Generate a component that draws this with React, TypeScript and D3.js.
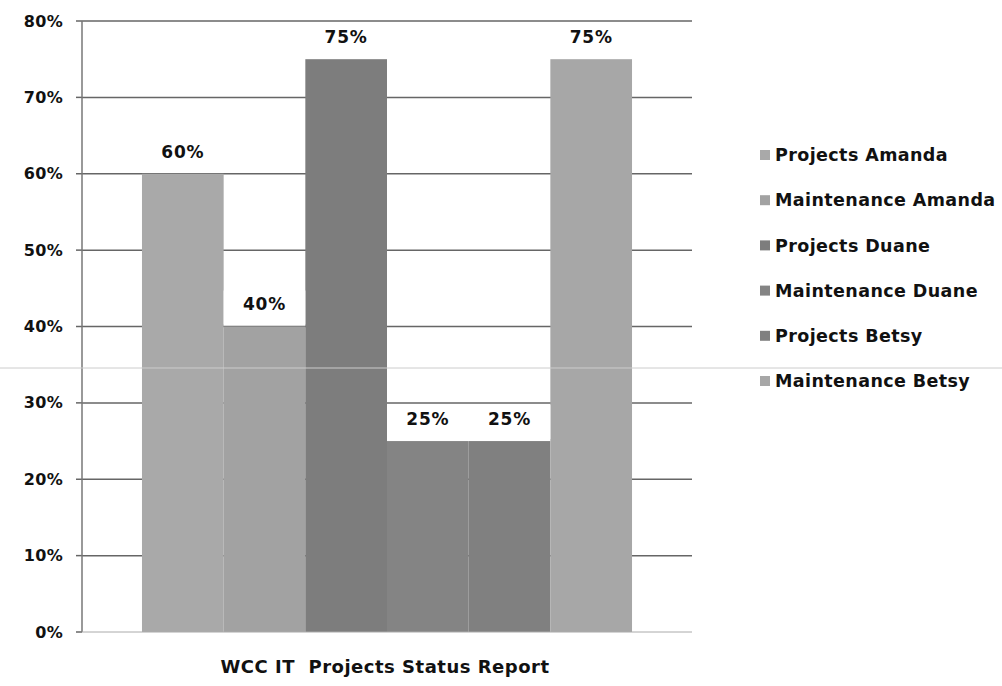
import React from "react";
import * as d3 from "d3";

const seriesNames = [
  "Projects Amanda",
  "Maintenance Amanda",
  "Projects Duane",
  "Maintenance Duane",
  "Projects Betsy",
  "Maintenance Betsy",
];
const seriesValues = [0.6, 0.4, 0.75, 0.25, 0.25, 0.75];
const seriesColors = ["#a9a9a9", "#a2a2a2", "#7d7d7d", "#848484", "#808080", "#a7a7a7"];
const yTicks = [0, 0.1, 0.2, 0.3, 0.4, 0.5, 0.6, 0.7, 0.8];
const categoryLabel = "WCC IT  Projects Status Report";

const W = 1002;
const H = 686;
const font = "'DejaVu Sans', 'Liberation Sans', sans-serif";

export default function App() {
  const plotLeft = 82;
  const plotRight = 692;
  const y = d3.scaleLinear().domain([0, 0.8]).range([632, 21]);
  const outer = d3.scaleBand().domain([categoryLabel]).range([plotLeft, plotRight]).paddingInner(0).paddingOuter(0.1224);
  const inner = d3.scaleBand().domain(seriesNames).range([outer(categoryLabel)!, outer(categoryLabel)! + outer.bandwidth()]).padding(0);
  const fmt = d3.format(".0%");

  return (
    <svg width={W} height={H} style={{ position: "absolute", left: 0, top: 0, background: "#fff" }} fontFamily={font}>
      <rect x={0} y={0} width={W} height={H} fill="#fff" />
      {/* gridlines */}
      {yTicks.map((t) => (
        <g key={t}>
          {t > 0 && (
            <line x1={plotLeft} x2={plotRight} y1={y(t)} y2={y(t)} stroke="#666" strokeWidth={1.5} />
          )}
          <line x1={plotLeft - 6} x2={plotLeft} y1={y(t)} y2={y(t)} stroke="#666" strokeWidth={1.5} />
          <text x={63} y={y(t)} dy="0.35em" textAnchor="end" fontSize={16} fontWeight="bold" fill="#111" letterSpacing={0.3}>
            {fmt(t)}
          </text>
        </g>
      ))}
      {/* bars */}
      {seriesNames.map((s, i) => (
        <rect
          key={s}
          x={inner(s)!}
          y={y(seriesValues[i])}
          width={inner.bandwidth()}
          height={y(0) - y(seriesValues[i])}
          fill={seriesColors[i]}
        />
      ))}
      {/* axes */}
      <line x1={plotLeft} x2={plotLeft} y1={y(0.8)} y2={y(0)} stroke="#777" strokeWidth={1.5} />
      <line x1={plotLeft} x2={plotRight} y1={y(0)} y2={y(0)} stroke="#aaa" strokeWidth={1} />
      {/* data labels */}
      {seriesNames.map((s, i) => {
        const cx = inner(s)! + inner.bandwidth() / 2;
        const ly = y(seriesValues[i]) - 22;
        return (
          <g key={s + "l"}>
            <rect x={inner(s)!} y={ly - 14} width={inner.bandwidth()} height={34} fill="#fff" />
            <text x={cx} y={ly} dy="0.35em" textAnchor="middle" fontSize={17} fontWeight="bold" fill="#111" letterSpacing={0.8}>
              {fmt(seriesValues[i])}
            </text>
          </g>
        );
      })}
      {/* category label */}
      <text x={385} y={667} dy="0.35em" textAnchor="middle" fontSize={18} fontWeight="bold" fill="#111" letterSpacing={0.5} style={{ whiteSpace: "pre" }}>
        {categoryLabel}
      </text>
      {/* legend */}
      {seriesNames.map((s, i) => {
        const ly = 155 + i * 45.2;
        return (
          <g key={s + "lg"}>
            <rect x={760} y={ly - 5} width={10} height={10} fill={seriesColors[i]} />
            <text x={775} y={ly} dy="0.35em" fontSize={17.5} fontWeight="bold" fill="#111" letterSpacing={0.4}>
              {s}
            </text>
          </g>
        );
      })}
      {/* scan artifact line */}
      <line x1={0} x2={W} y1={368} y2={368} stroke="#ccc" strokeWidth={1} />
    </svg>
  );
}
